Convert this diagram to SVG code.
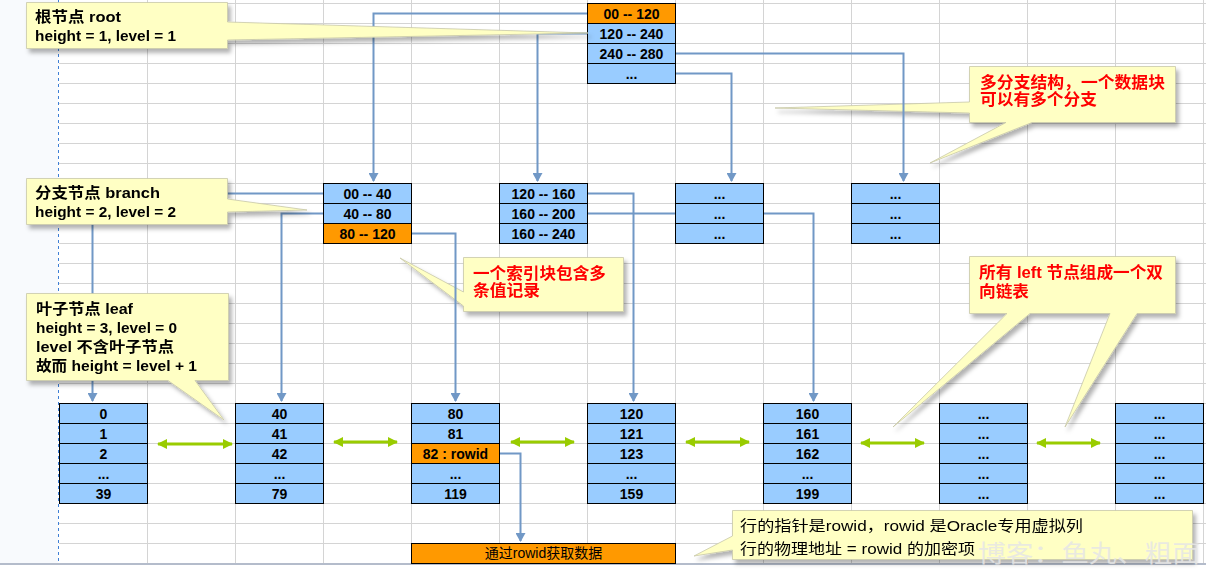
<svg xmlns="http://www.w3.org/2000/svg" width="1206" height="575" viewBox="0 0 1206 575">
<style>
.g{stroke:#d4d4d4;stroke-width:1;fill:none}
.c{fill:#99ccff;stroke:#000;stroke-width:1}
.o{fill:#ff9900;stroke:#000;stroke-width:1}
.t{font-family:"Liberation Sans","Noto Sans CJK SC",sans-serif;font-weight:bold;font-size:14px;fill:#000;text-anchor:middle}
.k{stroke:#7198c6;stroke-width:2;fill:none}
.gr{stroke:#99cc00;stroke-width:3;fill:none}
.co{fill:#ffffc4;stroke:#c8c8a8;stroke-width:0.8}
.lt{font-family:"Liberation Sans","Noto Sans CJK SC",sans-serif;font-weight:bold;font-size:15px;fill:#000}
.rt{font-family:"Liberation Sans","Noto Sans CJK SC",sans-serif;font-weight:bold;font-size:16px;fill:#ff0000}
.bt{font-family:"Liberation Sans","Noto Sans CJK SC",sans-serif;font-size:15px;fill:#000}
</style>
<defs>
<marker id="ab" markerWidth="10" markerHeight="10" refX="8" refY="5" orient="auto" markerUnits="userSpaceOnUse"><path d="M0,0 L9,5 L0,10 z" fill="#7198c6"/></marker>
<marker id="ag" markerWidth="10" markerHeight="10" refX="9" refY="5" orient="auto-start-reverse" markerUnits="userSpaceOnUse"><path d="M0,0 L10,5 L0,10 z" fill="#99cc00"/></marker>
<filter id="sh" x="-10%" y="-10%" width="130%" height="150%"><feDropShadow dx="3" dy="4" stdDeviation="2" flood-color="#000" flood-opacity="0.3"/></filter>
</defs>
<rect x="0" y="0" width="1206" height="575" fill="#ffffff"/>
<rect x="0" y="0" width="58" height="563" fill="#f8fafd"/>
<g id="grid">
<path class="g" d="M59,3.5H1206M59,23.5H1206M59,43.5H1206M59,63.5H1206M59,83.5H1206M59,103.5H1206M59,123.5H1206M59,143.5H1206M59,163.5H1206M59,183.5H1206M59,203.5H1206M59,223.5H1206M59,243.5H1206M59,263.5H1206M59,283.5H1206M59,303.5H1206M59,323.5H1206M59,343.5H1206M59,363.5H1206M59,383.5H1206M59,403.5H1206M59,423.5H1206M59,443.5H1206M59,463.5H1206M59,483.5H1206M59,503.5H1206M59,523.5H1206M59,543.5H1206"/>
<path class="g" d="M147.5,0V563M235.5,0V563M323.5,0V563M411.5,0V563M499.5,0V563M587.5,0V563M675.5,0V563M763.5,0V563M851.5,0V563M939.5,0V563M1027.5,0V563M1115.5,0V563M1203.5,0V563"/>
<line x1="58.5" y1="0" x2="58.5" y2="563" stroke="#3f7fd6" stroke-width="1" stroke-dasharray="3,3"/>
<line x1="0" y1="564" x2="1206" y2="564" stroke="#b4bccb" stroke-width="2"/>
</g>
<g id="note-index" filter="url(#sh)">
<path class="co" d="M463.5,257.5H623.5V311.5H463.5V306L400,258L463.5,292Z"/>
<text class="rt" x="473" y="279" textLength="133" lengthAdjust="spacingAndGlyphs">一个索引块包含多</text>
<text class="rt" x="473" y="296" textLength="67" lengthAdjust="spacingAndGlyphs">条值记录</text>
</g>
<g id="note-multi" filter="url(#sh)">
<path class="co" d="M969.5,66.5H1175.5V122.5H1032L930,163L1006,122.5H969.5V113L775,108L969.5,102Z"/>
<text class="rt" x="980" y="88" textLength="185" lengthAdjust="spacingAndGlyphs">多分支结构，一个数据块</text>
<text class="rt" x="980" y="105" textLength="117" lengthAdjust="spacingAndGlyphs">可以有多个分支</text>
</g>
<g id="note-list" filter="url(#sh)">
<path class="co" d="M969.5,256.5H1175.5V313.5H1137L1065,427L1110,313.5H1030L893,427L1007,313.5H969.5Z"/>
<text class="rt" x="979" y="278" textLength="184" lengthAdjust="spacingAndGlyphs">所有 left 节点组成一个双</text>
<text class="rt" x="979" y="297" textLength="50" lengthAdjust="spacingAndGlyphs">向链表</text>
</g>
<g id="connectors">
<path class="k" d="M587,13.5H373.5V181" marker-end="url(#ab)"/>
<path class="k" d="M587,33.5H537.5V181" marker-end="url(#ab)"/>
<path class="k" d="M676,53.5H903.5V181" marker-end="url(#ab)"/>
<path class="k" d="M676,73.5H731.5V181" marker-end="url(#ab)"/>
<path class="k" d="M323,193.5H92.5V401" marker-end="url(#ab)"/>
<path class="k" d="M323,213.5H281.5V401" marker-end="url(#ab)"/>
<path class="k" d="M412,233.5H455.5V401" marker-end="url(#ab)"/>
<path class="k" d="M588,193.5H633.5V401" marker-end="url(#ab)"/>
<path class="k" d="M588,213.5H813.5V401" marker-end="url(#ab)"/>
<path class="k" d="M500,453.5H520.5V541" marker-end="url(#ab)"/>
<line class="gr" x1="158" y1="444" x2="232" y2="444" marker-start="url(#ag)" marker-end="url(#ag)"/>
<line class="gr" x1="334" y1="442" x2="397" y2="442" marker-start="url(#ag)" marker-end="url(#ag)"/>
<line class="gr" x1="511" y1="442" x2="574" y2="442" marker-start="url(#ag)" marker-end="url(#ag)"/>
<line class="gr" x1="686" y1="442" x2="749" y2="442" marker-start="url(#ag)" marker-end="url(#ag)"/>
<line class="gr" x1="861" y1="443" x2="924" y2="443" marker-start="url(#ag)" marker-end="url(#ag)"/>
<line class="gr" x1="1037" y1="443" x2="1100" y2="443" marker-start="url(#ag)" marker-end="url(#ag)"/>
</g>
<g id="root">
<rect class="o" x="587.5" y="3.5" width="88" height="20"/><text class="t" x="631.5" y="18.5">00 -- 120</text>
<rect class="c" x="587.5" y="23.5" width="88" height="20"/><text class="t" x="631.5" y="38.5">120 -- 240</text>
<rect class="c" x="587.5" y="43.5" width="88" height="20"/><text class="t" x="631.5" y="58.5">240 -- 280</text>
<rect class="c" x="587.5" y="63.5" width="88" height="20"/><text class="t" x="631.5" y="78.5">...</text>
</g>
<g id="branch1">
<rect class="c" x="323.5" y="183.5" width="88" height="20"/><text class="t" x="367.5" y="198.5">00 -- 40</text>
<rect class="c" x="323.5" y="203.5" width="88" height="20"/><text class="t" x="367.5" y="218.5">40 -- 80</text>
<rect class="o" x="323.5" y="223.5" width="88" height="20"/><text class="t" x="367.5" y="238.5">80 -- 120</text>
</g>
<g id="branch2">
<rect class="c" x="499.5" y="183.5" width="88" height="20"/><text class="t" x="543.5" y="198.5">120 -- 160</text>
<rect class="c" x="499.5" y="203.5" width="88" height="20"/><text class="t" x="543.5" y="218.5">160 -- 200</text>
<rect class="c" x="499.5" y="223.5" width="88" height="20"/><text class="t" x="543.5" y="238.5">160 -- 240</text>
</g>
<g id="branch3">
<rect class="c" x="675.5" y="183.5" width="88" height="20"/><text class="t" x="719.5" y="198.5">...</text>
<rect class="c" x="675.5" y="203.5" width="88" height="20"/><text class="t" x="719.5" y="218.5">...</text>
<rect class="c" x="675.5" y="223.5" width="88" height="20"/><text class="t" x="719.5" y="238.5">...</text>
</g>
<g id="branch4">
<rect class="c" x="851.5" y="183.5" width="88" height="20"/><text class="t" x="895.5" y="198.5">...</text>
<rect class="c" x="851.5" y="203.5" width="88" height="20"/><text class="t" x="895.5" y="218.5">...</text>
<rect class="c" x="851.5" y="223.5" width="88" height="20"/><text class="t" x="895.5" y="238.5">...</text>
</g>
<g id="leaf1">
<rect class="c" x="59.5" y="403.5" width="88" height="20"/><text class="t" x="103.5" y="418.5">0</text>
<rect class="c" x="59.5" y="423.5" width="88" height="20"/><text class="t" x="103.5" y="438.5">1</text>
<rect class="c" x="59.5" y="443.5" width="88" height="20"/><text class="t" x="103.5" y="458.5">2</text>
<rect class="c" x="59.5" y="463.5" width="88" height="20"/><text class="t" x="103.5" y="478.5">...</text>
<rect class="c" x="59.5" y="483.5" width="88" height="20"/><text class="t" x="103.5" y="498.5">39</text>
</g>
<g id="leaf2">
<rect class="c" x="235.5" y="403.5" width="88" height="20"/><text class="t" x="279.5" y="418.5">40</text>
<rect class="c" x="235.5" y="423.5" width="88" height="20"/><text class="t" x="279.5" y="438.5">41</text>
<rect class="c" x="235.5" y="443.5" width="88" height="20"/><text class="t" x="279.5" y="458.5">42</text>
<rect class="c" x="235.5" y="463.5" width="88" height="20"/><text class="t" x="279.5" y="478.5">...</text>
<rect class="c" x="235.5" y="483.5" width="88" height="20"/><text class="t" x="279.5" y="498.5">79</text>
</g>
<g id="leaf3">
<rect class="c" x="411.5" y="403.5" width="88" height="20"/><text class="t" x="455.5" y="418.5">80</text>
<rect class="c" x="411.5" y="423.5" width="88" height="20"/><text class="t" x="455.5" y="438.5">81</text>
<rect class="o" x="411.5" y="443.5" width="88" height="20"/><text class="t" x="455.5" y="458.5">82 : rowid</text>
<rect class="c" x="411.5" y="463.5" width="88" height="20"/><text class="t" x="455.5" y="478.5">...</text>
<rect class="c" x="411.5" y="483.5" width="88" height="20"/><text class="t" x="455.5" y="498.5">119</text>
</g>
<g id="leaf4">
<rect class="c" x="587.5" y="403.5" width="88" height="20"/><text class="t" x="631.5" y="418.5">120</text>
<rect class="c" x="587.5" y="423.5" width="88" height="20"/><text class="t" x="631.5" y="438.5">121</text>
<rect class="c" x="587.5" y="443.5" width="88" height="20"/><text class="t" x="631.5" y="458.5">123</text>
<rect class="c" x="587.5" y="463.5" width="88" height="20"/><text class="t" x="631.5" y="478.5">...</text>
<rect class="c" x="587.5" y="483.5" width="88" height="20"/><text class="t" x="631.5" y="498.5">159</text>
</g>
<g id="leaf5">
<rect class="c" x="763.5" y="403.5" width="88" height="20"/><text class="t" x="807.5" y="418.5">160</text>
<rect class="c" x="763.5" y="423.5" width="88" height="20"/><text class="t" x="807.5" y="438.5">161</text>
<rect class="c" x="763.5" y="443.5" width="88" height="20"/><text class="t" x="807.5" y="458.5">162</text>
<rect class="c" x="763.5" y="463.5" width="88" height="20"/><text class="t" x="807.5" y="478.5">...</text>
<rect class="c" x="763.5" y="483.5" width="88" height="20"/><text class="t" x="807.5" y="498.5">199</text>
</g>
<g id="leaf6">
<rect class="c" x="939.5" y="403.5" width="88" height="20"/><text class="t" x="983.5" y="418.5">...</text>
<rect class="c" x="939.5" y="423.5" width="88" height="20"/><text class="t" x="983.5" y="438.5">...</text>
<rect class="c" x="939.5" y="443.5" width="88" height="20"/><text class="t" x="983.5" y="458.5">...</text>
<rect class="c" x="939.5" y="463.5" width="88" height="20"/><text class="t" x="983.5" y="478.5">...</text>
<rect class="c" x="939.5" y="483.5" width="88" height="20"/><text class="t" x="983.5" y="498.5">...</text>
</g>
<g id="leaf7">
<rect class="c" x="1115.5" y="403.5" width="88" height="20"/><text class="t" x="1159.5" y="418.5">...</text>
<rect class="c" x="1115.5" y="423.5" width="88" height="20"/><text class="t" x="1159.5" y="438.5">...</text>
<rect class="c" x="1115.5" y="443.5" width="88" height="20"/><text class="t" x="1159.5" y="458.5">...</text>
<rect class="c" x="1115.5" y="463.5" width="88" height="20"/><text class="t" x="1159.5" y="478.5">...</text>
<rect class="c" x="1115.5" y="483.5" width="88" height="20"/><text class="t" x="1159.5" y="498.5">...</text>
</g>
<g id="data">
<rect class="o" x="411.5" y="543.5" width="264" height="20"/>
<text x="543.5" y="558" font-family="Liberation Sans,Noto Sans CJK SC,sans-serif" font-size="14" text-anchor="middle" fill="#000">通过rowid获取数据</text>
</g>
<g id="note-root" filter="url(#sh)">
<path class="co" d="M26.5,2.5H227.5V22L588,33L227.5,40V48.5H26.5Z"/>
<text class="lt" x="35" y="22" textLength="86" lengthAdjust="spacingAndGlyphs">根节点 root</text>
<text class="lt" x="35" y="41" textLength="141" lengthAdjust="spacingAndGlyphs">height = 1, level = 1</text>
</g>
<g id="note-branch" filter="url(#sh)">
<path class="co" d="M26.5,178.5H227.5V199L307,210L227.5,212V224.5H26.5Z"/>
<text class="lt" x="35" y="198" textLength="125" lengthAdjust="spacingAndGlyphs">分支节点 branch</text>
<text class="lt" x="35" y="217" textLength="141" lengthAdjust="spacingAndGlyphs">height = 2, level = 2</text>
</g>
<g id="note-leaf" filter="url(#sh)">
<path class="co" d="M26.5,293.5H228.5V380.5H195L224,420L168,380.5H26.5Z"/>
<text class="lt" x="36" y="314" textLength="97" lengthAdjust="spacingAndGlyphs">叶子节点 leaf</text>
<text class="lt" x="36" y="333" textLength="141" lengthAdjust="spacingAndGlyphs">height = 3, level = 0</text>
<text class="lt" x="36" y="352" textLength="138" lengthAdjust="spacingAndGlyphs">level 不含叶子节点</text>
<text class="lt" x="36" y="371" textLength="161" lengthAdjust="spacingAndGlyphs">故而 height = level + 1</text>
</g>
<g id="note-rowid" filter="url(#sh)">
<path class="co" d="M732.5,510.5H1192.5V559.5H732.5V550L694,556L732.5,536Z"/>
<text class="bt" x="740" y="531" textLength="343" lengthAdjust="spacingAndGlyphs">行的指针是rowid，rowid 是Oracle专用虚拟列</text>
<text class="bt" x="740" y="554" textLength="235" lengthAdjust="spacingAndGlyphs">行的物理地址 = rowid 的加密项</text>
</g>
<text x="978" y="562" font-family="Noto Sans CJK SC,sans-serif" font-size="24" fill="#e6e6e6" fill-opacity="0.85" textLength="222" lengthAdjust="spacingAndGlyphs">博客：鱼丸、粗面</text>
</svg>
